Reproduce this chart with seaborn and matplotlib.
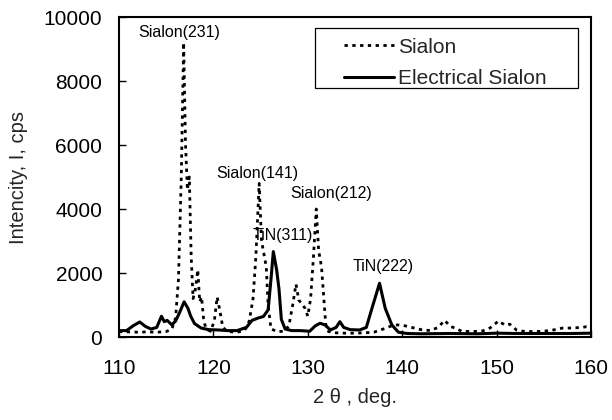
import matplotlib
matplotlib.use("Agg")
import matplotlib.pyplot as plt
from matplotlib.patches import Rectangle
import numpy as np
import pandas as pd
import seaborn as sns

# XRD patterns: 2-theta (deg) and intensity (cps)
sialon_2theta = [110.0, 111.0, 112.0, 113.0, 114.0, 115.0, 115.6, 116.0, 116.3, 116.6,
                 116.85, 117.05, 117.25, 117.45, 117.65, 117.85, 118.1, 118.35, 118.55, 118.75,
                 118.95, 119.2, 119.7, 120.1, 120.4, 120.7, 121.0, 121.5, 122.5, 123.3,
                 123.8, 124.2, 124.5, 124.85, 125.1, 125.35, 125.6, 125.8, 126.1, 126.8,
                 127.5, 128.0, 128.4, 128.75, 129.05, 129.35, 129.7, 130.0, 130.3, 130.6,
                 130.9, 131.15, 131.45, 131.7, 131.9, 132.2, 133.0, 134.0, 135.0, 136.0,
                 137.0, 138.0, 138.7, 139.5, 140.3, 141.0, 142.0, 143.0, 143.8, 144.5,
                 145.1, 145.6, 146.3, 147.5, 148.5, 149.3, 150.2, 150.9, 151.4, 152.1,
                 153.0, 154.0, 155.0, 156.0, 157.0, 158.0, 159.0, 159.5, 160.0]
sialon_cps = [170, 160, 150, 160, 150, 170, 250, 600, 1800, 5000,
              9200, 6000, 4600, 5000, 2500, 1200, 1500, 2100, 1100, 1250,
              600, 250, 180, 500, 1250, 800, 300, 170, 150, 200,
              500, 1200, 2500, 4800, 3000, 2600, 2200, 1000, 250, 170,
              180, 350, 1000, 1650, 1150, 1050, 900, 650, 1200, 2500,
              4000, 2700, 2200, 1200, 400, 170, 130, 120, 120, 130,
              150, 250, 330, 380, 350, 300, 230, 200, 300, 520,
              330, 280, 180, 170, 190, 280, 500, 370, 400, 220,
              170, 170, 180, 220, 280, 280, 300, 320, 300]

elec_2theta = [110.0, 110.8, 111.5, 112.2, 112.8, 113.4, 114.0, 114.5, 114.8, 115.1,
               115.6, 116.0, 116.4, 116.9, 117.3, 117.6, 118.0, 118.7, 119.5, 120.5,
               121.5, 122.5, 123.5, 124.1, 124.8, 125.3, 125.8, 126.1, 126.35, 126.7,
               126.95, 127.2, 127.6, 128.3, 129.2, 130.2, 130.8, 131.3, 131.8, 132.4,
               133.0, 133.4, 133.8, 134.5, 135.5, 136.2, 136.8, 137.6, 138.2, 138.9,
               139.6, 140.5, 142.0, 145.0, 148.0, 150.0, 152.0, 155.0, 158.0, 160.0]
elec_cps = [200, 200, 350, 470, 330, 250, 300, 650, 480, 520,
            380, 500, 750, 1100, 900, 650, 420, 280, 230, 220,
            200, 200, 300, 520, 600, 640, 850, 1800, 2670, 2100,
            1500, 550, 250, 200, 200, 180, 350, 430, 380, 220,
            300, 480, 300, 230, 220, 300, 900, 1680, 900, 380,
            150, 110, 100, 110, 100, 120, 110, 110, 110, 120]

series_names = ["Sialon", "Electrical Sialon"]

# Peak labels: text, 2-theta, intensity
peak_labels = ["Sialon(231)", "Sialon(141)", "Sialon(212)", "TiN(311)", "TiN(222)"]
peak_label_x = [116.4, 124.7, 132.5, 127.4, 138.0]
peak_label_y = [9530, 5120, 4500, 3160, 2190]

x_ticks = [110, 120, 130, 140, 150, 160]
y_ticks = [0, 2000, 4000, 6000, 8000, 10000]

sns.set_style("ticks")
plt.rcParams["font.family"] = ["Liberation Sans", "DejaVu Sans"]

df = pd.concat([
    pd.DataFrame({"two_theta": sialon_2theta, "cps": sialon_cps, "sample": series_names[0]}),
    pd.DataFrame({"two_theta": elec_2theta, "cps": elec_cps, "sample": series_names[1]}),
])

fig = plt.figure(figsize=(6.12, 4.2), dpi=100)
ax = fig.add_axes([0.1944, 0.1976, 0.7713, 0.7619])

sns.lineplot(data=df[df["sample"] == series_names[0]], x="two_theta", y="cps",
             color="black", lw=2.0, linestyle=(0, (1.2, 1.6)), ax=ax,
             label=series_names[0], estimator=None, sort=False)
sns.lineplot(data=df[df["sample"] == series_names[1]], x="two_theta", y="cps",
             color="black", lw=2.2, ax=ax,
             label=series_names[1], estimator=None, sort=False)

ax.set_xlim(110, 160)
ax.set_ylim(0, 10000)
ax.set_xticks(x_ticks)
ax.set_yticks(y_ticks)
ax.tick_params(direction="in", length=5, width=1, labelsize=15, colors="black")
ax.tick_params(axis="x", pad=16)
ax.tick_params(axis="y", pad=12)
for s in ax.spines.values():
    s.set_color("black")
    s.set_linewidth(1.5)

ax.set_xlabel("2 \u03b8 , deg.", fontsize=14.5, labelpad=7)
ax.set_ylabel("Intencity, I, cps", fontsize=14.5, labelpad=11)

for t, x, y in zip(peak_labels, peak_label_x, peak_label_y):
    ax.text(x, y, t, fontsize=11.5, ha="center", va="center", color="black")

# Legend with a plain rectangular frame
leg = ax.legend(loc="upper left", bbox_to_anchor=(0.46, 0.962), frameon=False,
                fontsize=15, handlelength=2.4, handletextpad=0.15, labelspacing=0.6,
                borderaxespad=0)
for h in leg.get_lines():
    h.set_color("black")
ax.add_patch(Rectangle((0.415, 0.778), 0.557, 0.188, transform=ax.transAxes,
                       fill=False, edgecolor="black", lw=0.9))

fig.savefig("out.png", dpi=100)
